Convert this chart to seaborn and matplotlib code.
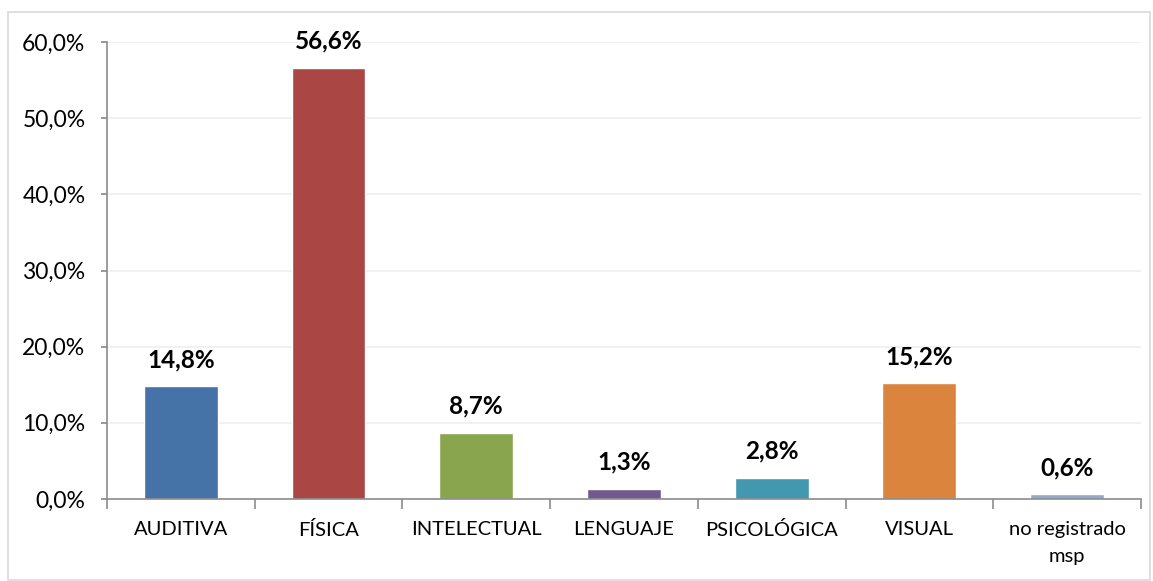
import matplotlib.pyplot as plt
import pandas as pd
import seaborn as sns
from matplotlib.patches import Rectangle
from matplotlib.ticker import FuncFormatter, MultipleLocator

categorias = ["AUDITIVA", "FÍSICA", "INTELECTUAL", "LENGUAJE", "PSICOLÓGICA", "VISUAL", "no registrado\nmsp"]
porcentajes = [14.8, 56.6, 8.7, 1.3, 2.8, 15.2, 0.6]
colores = ["#4572A7", "#AA4643", "#89A54E", "#71588F", "#4198AF", "#DB843D", "#93A9CF"]


def fmt_pct(v, _pos=None):
    return f"{v:.1f}%".replace(".", ",")


def main() -> None:
    sns.set_theme(style="white")
    plt.rcParams["font.family"] = ["Lato", "DejaVu Sans"]

    df = pd.DataFrame({"categoria": categorias, "pct": porcentajes})

    fig = plt.figure(figsize=(11.53, 5.81), dpi=100)
    ax = fig.add_axes([107 / 1153, 1 - 499 / 581, (1141 - 107) / 1153, (499 - 42) / 581])

    sns.barplot(
        data=df, x="categoria", y="pct", hue="categoria", palette=colores,
        width=0.5, legend=False, ax=ax, saturation=1,
    )

    ax.set_ylim(0, 60)
    ax.set_xlim(-0.5, len(categorias) - 0.5)
    ax.yaxis.set_major_locator(MultipleLocator(10))
    ax.yaxis.set_major_formatter(FuncFormatter(fmt_pct))
    ax.grid(axis="y", color="#EFEFEF", linewidth=1.2)
    ax.set_axisbelow(True)
    ax.set_xlabel("")
    ax.set_ylabel("")

    for side in ["top", "right"]:
        ax.spines[side].set_visible(False)
    for side in ["left", "bottom"]:
        ax.spines[side].set_color("#8C8C8C")
        ax.spines[side].set_linewidth(1.2)

    ax.set_xticks(range(len(categorias)), categorias)
    ax.tick_params(axis="y", which="major", left=True, length=4.5, color="#8C8C8C",
                   labelsize=16.5, pad=11, labelcolor="#000000")
    ax.tick_params(axis="x", which="major", bottom=False, labelsize=14.5, pad=10, labelcolor="#000000")
    # ticks between categories
    ax.set_xticks([i - 0.5 for i in range(len(categorias) + 1)], minor=True)
    ax.tick_params(axis="x", which="minor", bottom=True, length=7, color="#8C8C8C", width=1.2)

    for i, v in enumerate(porcentajes):
        ax.annotate(fmt_pct(v), (i, v), xytext=(0, 11), textcoords="offset points",
                    ha="center", va="bottom", fontsize=17.5, fontweight="bold", color="#000000")

    fig.add_artist(Rectangle((8 / 1153, 1 / 581), (1150 - 8) / 1153, (569 - 1) / 581,
                             transform=fig.transFigure, fill=False, edgecolor="#D9D9D9", linewidth=1.2))

    fig.canvas.draw()
    for lbl in ax.get_xticklabels():
        lbl.set_linespacing(1.7)

    fig.savefig("out.png", dpi=100)
    plt.close(fig)


if __name__ == "__main__":
    main()
